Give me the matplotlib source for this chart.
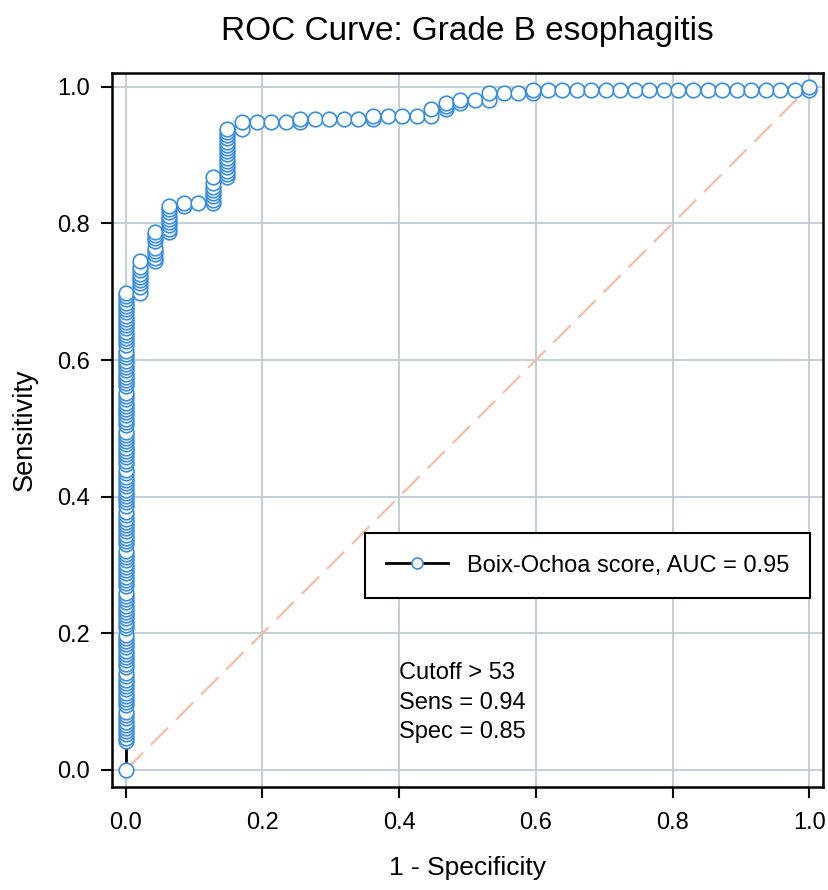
import matplotlib
matplotlib.use("Agg")
import matplotlib.pyplot as plt
import numpy as np

plt.rcParams["font.family"] = ["Liberation Sans", "DejaVu Sans"]

# ROC steps, as counts of false / true positives
n_neg = 47
n_pos = 212

# true positive counts in the first column (no false positives yet)
tp_col0 = [0, 9, 10, 11, 12, 13, 14, 15, 16, 17, 18, 20, 21, 22, 23, 24, 25, 26,
           27, 28, 29, 30, 32, 33, 34, 35, 36, 37, 38, 39, 40, 41, 42, 44, 45, 46,
           47, 48, 49, 50, 51, 52, 53, 54, 55, 57, 58, 59, 60, 61, 62, 63, 64, 65,
           66, 67, 68, 70, 71, 72, 73, 74, 75, 76, 77, 78, 79, 80, 82, 83, 84, 85,
           86, 87, 88, 89, 90, 91, 92, 93, 95, 96, 97, 98, 99, 100, 101, 102, 103,
           104, 105, 107, 108, 109, 110, 111, 112, 113, 114, 115, 116, 117, 119,
           120, 121, 122, 123, 124, 125, 126, 127, 128, 129, 130, 132, 133, 134,
           135, 136, 137, 138, 139, 140, 141, 142, 143, 144, 145, 146, 147, 148]

# true positive counts for each further false positive (1 .. 47)
tp_cols = [
    [148, 150, 151, 152, 153, 154, 155, 156, 158],
    [158, 159, 160, 161, 162, 164, 165, 166, 167],
    [167, 168, 169, 170, 171, 172, 173, 174, 175],
    [175, 176],
    [176],
    [176, 177, 178, 179, 180, 181, 182, 184],
    [184, 185, 186, 187, 188, 189, 190, 191, 192, 193, 194, 195, 196, 197, 198, 199],
    [199, 201],
    [201], [201], [201],
    [201, 202],
    [202], [202], [202], [202],
    [202, 203],
    [203], [203], [203],
    [203, 205],
    [205, 206, 207],
    [207, 208],
    [208],
    [208, 210],
    [210], [210],
    [210, 211],
    [211], [211], [211], [211], [211], [211], [211], [211], [211],
    [211], [211], [211], [211], [211], [211], [211], [211], [211],
    [211, 212],
]

legend_label = "Boix-Ochoa score, AUC = 0.95"
cutoff_text = "Cutoff > 53\nSens = 0.94\nSpec = 0.85"
ticks = [0.0, 0.2, 0.4, 0.6, 0.8, 1.0]

fp = [0] * len(tp_col0)
tp = list(tp_col0)
for k, col in enumerate(tp_cols, start=1):
    fp += [k] * len(col)
    tp += col
fpr = np.array(fp) / n_neg
tpr = np.array(tp) / n_pos

fig = plt.figure(figsize=(8.29, 8.90), dpi=100)
ax = fig.add_axes([0.1351, 0.1157, 0.8577, 0.8022])

ax.grid(True, color="#bccbd3", linewidth=1.3)
ax.set_axisbelow(True)
ax.plot([0, 1], [0, 1], color="#f8bca6", linewidth=1.6, dashes=(11, 5), zorder=2)
ax.plot(fpr, tpr, color="black", linewidth=2, marker="o", markersize=10.5,
        markerfacecolor="white", markeredgecolor="#3a8dde", markeredgewidth=1.2,
        label=legend_label, zorder=3)

ax.set_xlim(-0.02, 1.02)
ax.set_ylim(-0.025, 1.02)
ax.set_xticks(ticks)
ax.set_yticks(ticks)
ax.set_xticklabels([f"{t:.1f}" for t in ticks])
ax.set_yticklabels([f"{t:.1f}" for t in ticks])
ax.tick_params(direction="out", length=8, width=1.5, labelsize=17, pad=8)
ax.tick_params(axis="x", pad=10)
for s in ax.spines.values():
    s.set_linewidth(1.8)

ax.set_title("ROC Curve: Grade B esophagitis", fontsize=24, pad=24)
ax.set_xlabel("1 - Specificity", fontsize=19, labelpad=16)
ax.set_ylabel("Sensitivity", fontsize=19.5, labelpad=14)

leg = ax.legend(loc="center", bbox_to_anchor=(0.669, 0.310), fontsize=17,
                fancybox=False, framealpha=1, edgecolor="black",
                handlelength=2.6, markerscale=0.75, borderpad=0.9)
leg.get_frame().set_linewidth(1.5)

ax.text(0.40, 0.158, cutoff_text, fontsize=17, va="top", ha="left",
        linespacing=1.45)

fig.savefig("out.png", facecolor="white")
